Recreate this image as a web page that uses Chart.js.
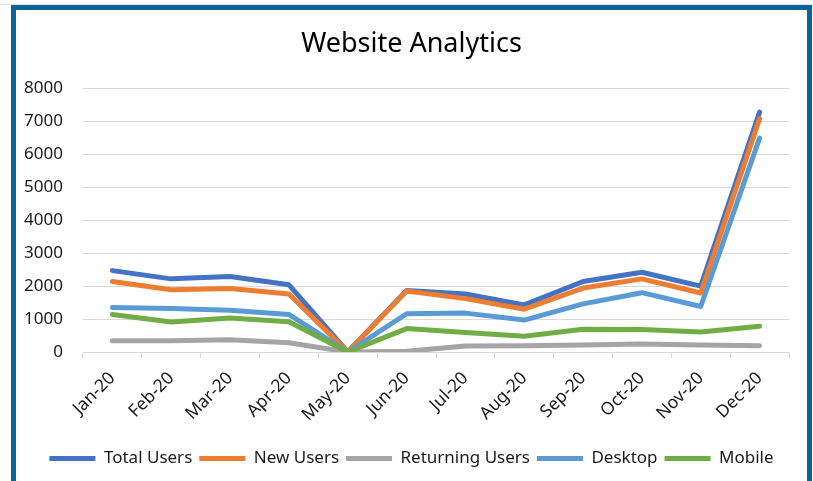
<!DOCTYPE html>
<html>
<head>
<meta charset="utf-8">
<script src="https://cdn.jsdelivr.net/npm/chart.js@4.4.1/dist/chart.umd.min.js"></script>
<style>
  html, body { margin: 0; padding: 0; background: #fff; overflow: hidden; }
  body { width: 813px; height: 481px; position: relative; }
  .topline { position: absolute; left: 0; top: 4px; width: 813px; height: 1px; background: #e3e3e3; }
  .frame { position: absolute; left: 11px; top: 5px; width: 791px; height: 520px; border: 5px solid #0a6399; box-sizing: content-box; }
  #wrap { position: absolute; left: 0; top: 0; width: 813px; height: 481px; }
</style>
</head>
<body>
<div class="topline"></div>
<div class="frame"></div>
<div id="wrap"><canvas id="analyticsChart"></canvas></div>
<script>
const months = ['Jan-20', 'Feb-20', 'Mar-20', 'Apr-20', 'May-20', 'Jun-20', 'Jul-20', 'Aug-20', 'Sep-20', 'Oct-20', 'Nov-20', 'Dec-20'];
const totalUsers     = [2470, 2220, 2290, 2040, 0, 1870, 1760, 1430, 2140, 2420, 2000, 7280];
const newUsers       = [2140, 1890, 1930, 1760, 0, 1850, 1620, 1300, 1940, 2220, 1790, 7080];
const returningUsers = [ 340,  340,  370,  280, 0,   20,  180,  190,  210,  240,  210,  190];
const desktop        = [1350, 1320, 1270, 1140, 0, 1160, 1180,  970, 1460, 1800, 1380, 6490];
const mobile         = [1140,  910, 1030,  920, 0,  710,  590,  480,  690,  680,  610,  780];
const yTicks = [0, 1000, 2000, 3000, 4000, 5000, 6000, 7000, 8000];

const FONT = '"Noto Sans", "DejaVu Sans", sans-serif';
const gridGrey = '#d9d9d9';
const textCol = '#1a1a1a';

function series(label, data, color, order) {
    return {
        label: label,
        data: data,
        borderColor: color,
        backgroundColor: color,
        borderWidth: 5,
        borderCapStyle: 'round',
        borderJoinStyle: 'round',
        pointRadius: 0,
        pointHoverRadius: 0,
        pointStyle: 'line',
        tension: 0,
        fill: false,
        order: order   // later series drawn on top, like the original
    };
}

const ctx = document.getElementById('analyticsChart').getContext('2d');
new Chart(ctx, {
    type: 'line',
    data: {
        labels: months,
        datasets: [
            series('Total Users', totalUsers, '#4472c4', 5),
            series('New Users', newUsers, '#ed7d31', 4),
            series('Returning Users', returningUsers, '#a5a5a5', 3),
            series('Desktop', desktop, '#5b9bd5', 2),
            series('Mobile', mobile, '#70ad47', 1)
        ]
    },
    options: {
        responsive: true,
        maintainAspectRatio: false,
        animation: false,
        // left/right padding differ so title + legend sit centred on the frame
        layout: { padding: { top: 0, left: 20, right: 10, bottom: 4 } },
        plugins: {
            title: {
                display: true,
                text: 'Website Analytics',
                color: '#000',
                font: { family: FONT, size: 27, weight: 'normal' },
                padding: { top: 28, bottom: 28 }
            },
            legend: {
                position: 'bottom',
                labels: {
                    color: textCol,
                    font: { family: FONT, size: 17 },
                    usePointStyle: true,
                    pointStyle: 'line',
                    pointStyleWidth: 46,
                    padding: 7,
                    sort: (a, b) => a.datasetIndex - b.datasetIndex
                }
            },
            tooltip: { enabled: false }
        },
        scales: {
            x: {
                offset: true,
                grid: {
                    offset: true,
                    drawOnChartArea: false,
                    color: gridGrey,
                    tickLength: 6
                },
                border: { display: true, color: gridGrey, width: 1 },
                ticks: {
                    color: textCol,
                    font: { family: FONT, size: 17.5 },
                    minRotation: 45,
                    maxRotation: 45,
                    padding: 10,
                    autoSkip: false
                },
                afterFit: (s) => { s.height = 91; }
            },
            y: {
                min: 0,
                max: 8000,
                afterBuildTicks: (s) => { s.ticks = yTicks.map(v => ({ value: v })); },
                grid: { color: gridGrey, lineWidth: 1, drawTicks: false },
                border: { display: false },
                ticks: {
                    color: textCol,
                    font: { family: FONT, size: 17 },
                    padding: 20,
                    callback: (v) => String(v)
                },
                afterFit: (s) => { s.width = 63; }
            },
            // empty spacer on the right, keeps the plot ending where the original does
            spacer: {
                type: 'linear',
                position: 'right',
                grid: { display: false },
                border: { display: false },
                ticks: { display: false },
                afterFit: (s) => { s.width = 14; }
            }
        }
    }
});
</script>
</body>
</html>
